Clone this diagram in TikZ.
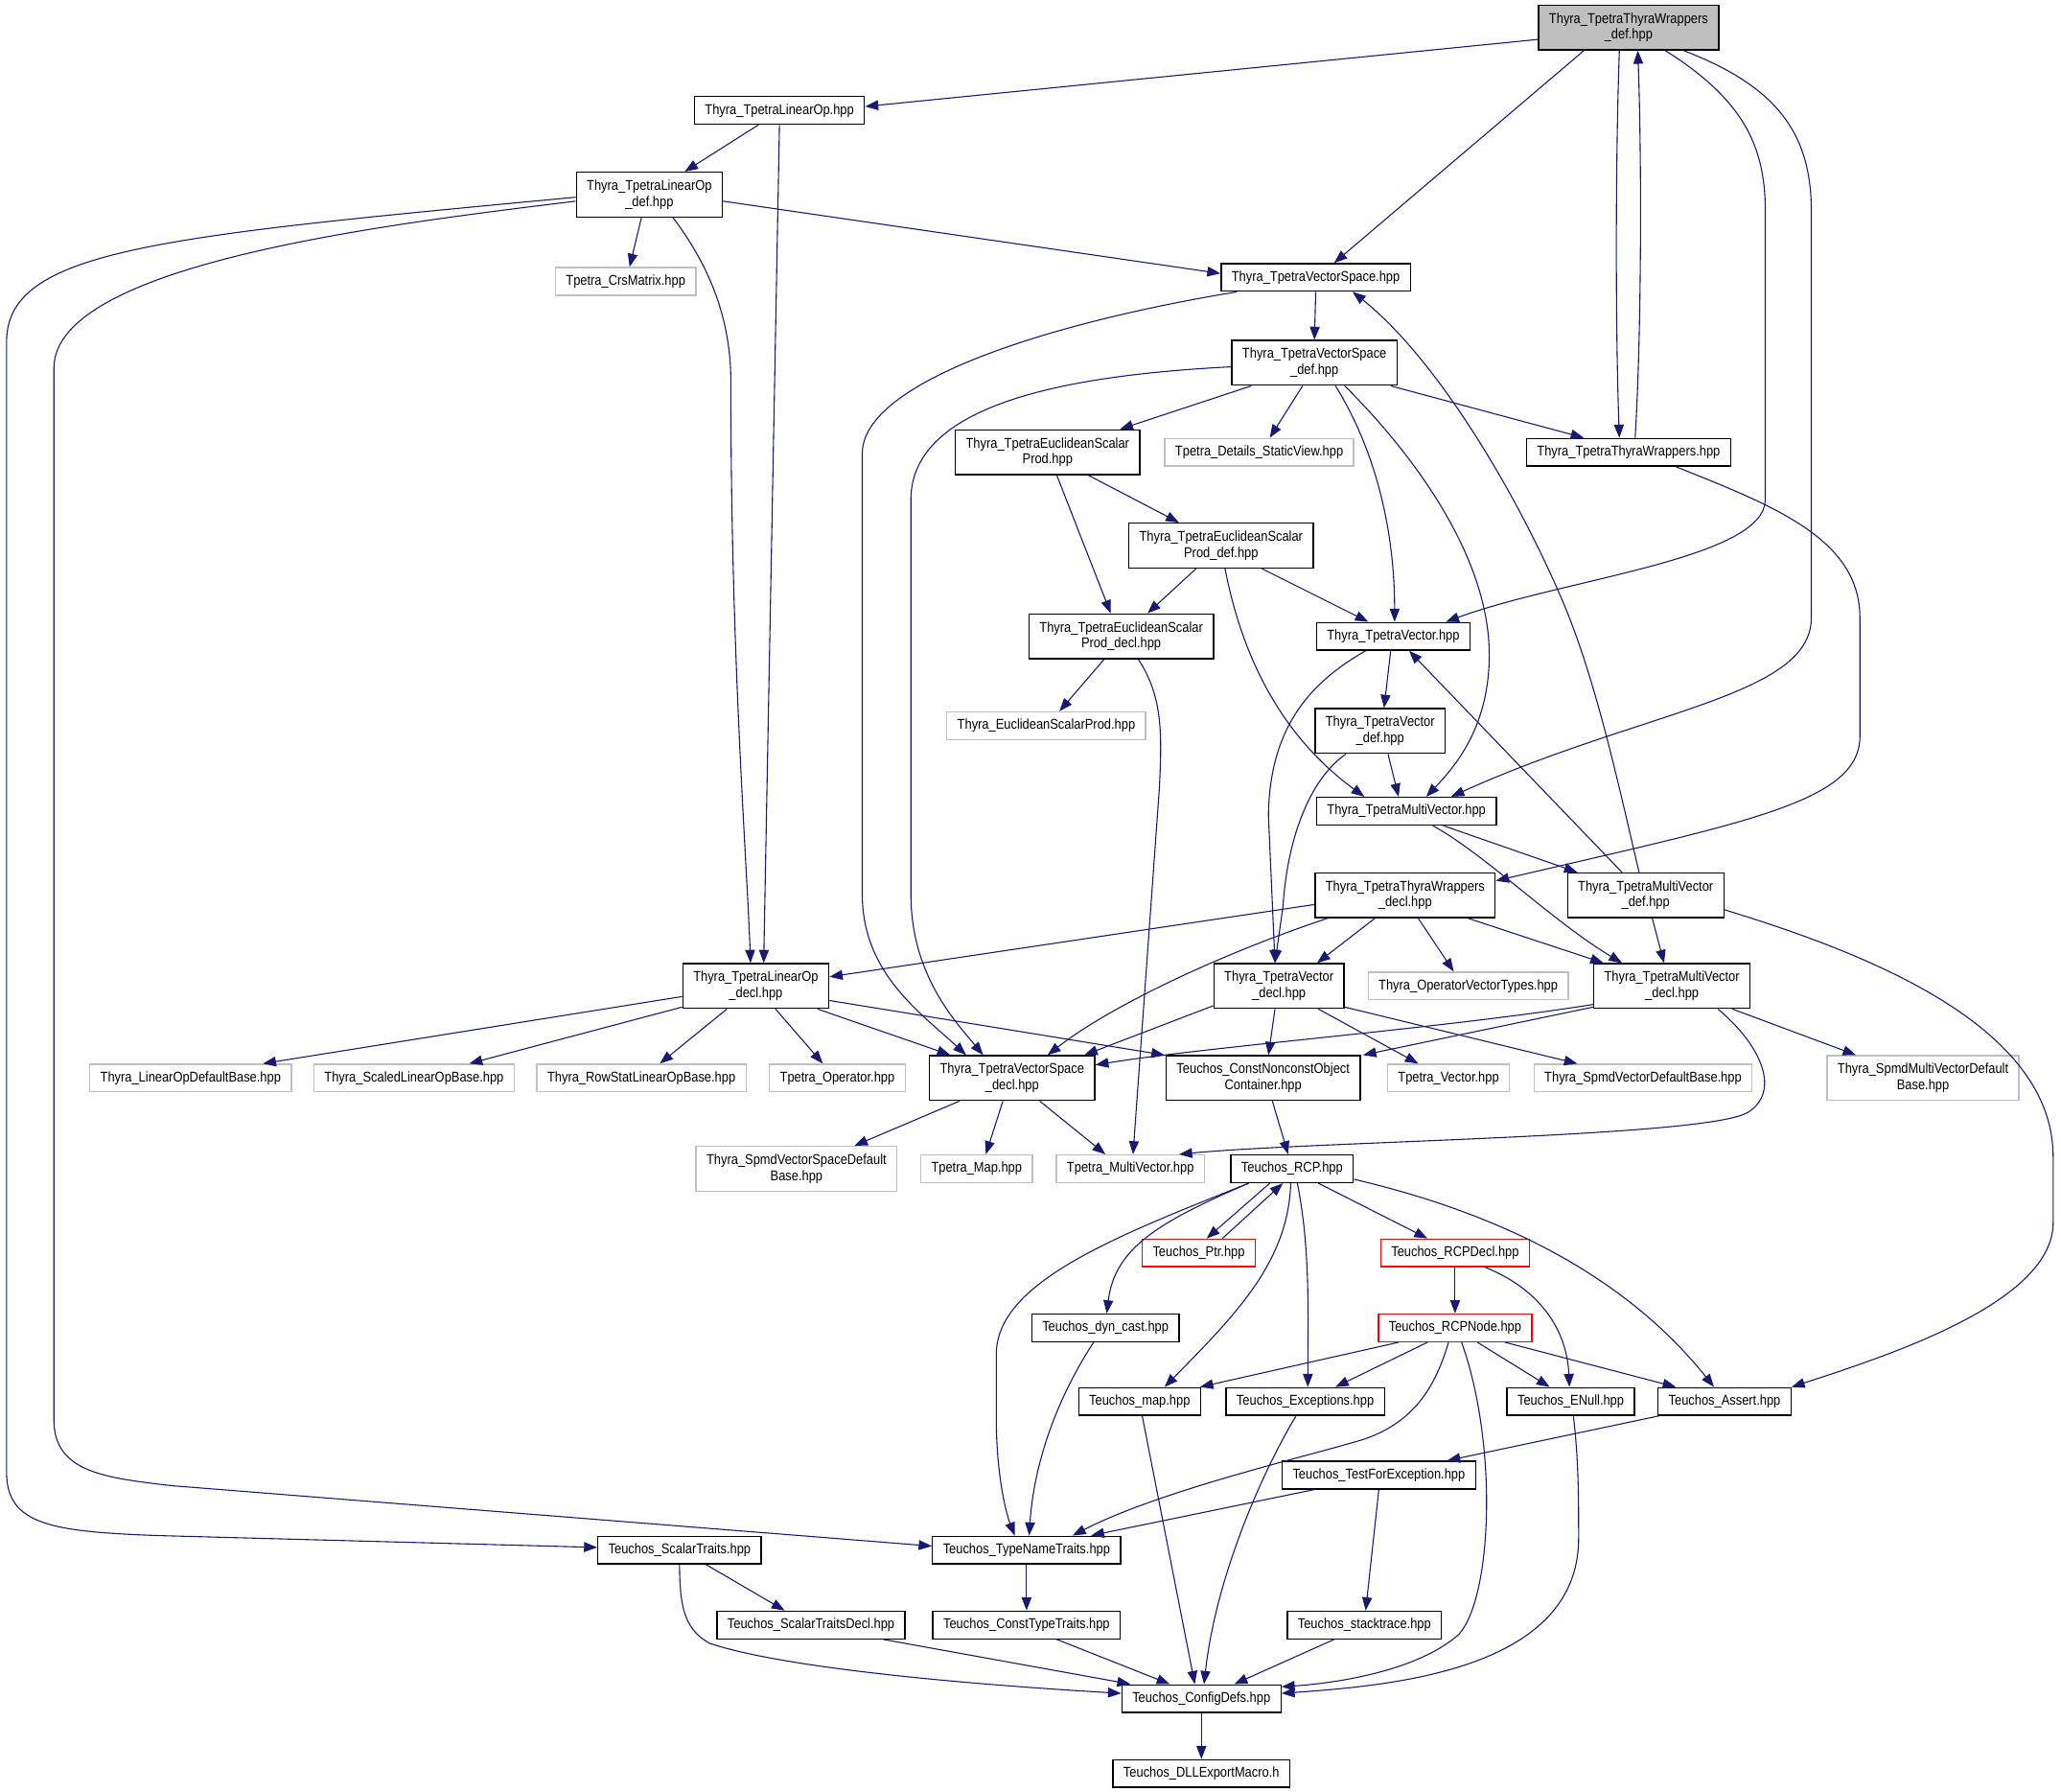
\documentclass[tikz,border=0pt]{standalone}
\usepackage{fontspec}
\setmainfont{Liberation Sans}[FakeStretch=0.87]
\usetikzlibrary{arrows.meta}
\definecolor{depblue}{HTML}{191970}
\definecolor{extgray}{HTML}{BFBFBF}

\begin{document}
\begin{tikzpicture}%
	[x=1pt, y=-1pt,
	filebox/.style={draw=black, fill=white, line width=1pt, inner xsep=8pt, inner ysep=2pt, minimum height=21pt, align=center, font=\fontsize{10.8}{12.2}\selectfont},
	twoline/.style={minimum height=34pt},
	extbox/.style={filebox, draw=extgray},
	redbox/.style={filebox, draw=red},
	rootbox/.style={filebox, fill=extgray},
	depedge/.style={color=depblue, line width=0.8pt, -{Triangle[length=10pt,width=7.5pt]}}]
	\fill[white] (0,0) rectangle (1568,1363);
	\useasboundingbox (0,0) rectangle (1568,1363);

	% files
	\node[rootbox, twoline] (ttwdef) at (1239,21) {Thyra\_TpetraThyraWrappers\\\_def.hpp};
	\node[filebox] (tlo) at (593,84) {Thyra\_TpetraLinearOp.hpp};
	\node[filebox, twoline] (tlodef) at (494,148) {Thyra\_TpetraLinearOp\\\_def.hpp};
	\node[extbox] (crs) at (476,214) {Tpetra\_CrsMatrix.hpp};
	\node[filebox] (tvs) at (1001,211) {Thyra\_TpetraVectorSpace.hpp};
	\node[filebox, twoline] (tvsdef) at (1000,276) {Thyra\_TpetraVectorSpace\\\_def.hpp};
	\node[filebox, twoline] (tesp) at (797,344) {Thyra\_TpetraEuclideanScalar\\Prod.hpp};
	\node[extbox] (staticview) at (958,344) {Tpetra\_Details\_StaticView.hpp};
	\node[filebox] (ttw) at (1239,344) {Thyra\_TpetraThyraWrappers.hpp};
	\node[filebox, twoline] (tespdef) at (929,415) {Thyra\_TpetraEuclideanScalar\\Prod\_def.hpp};
	\node[filebox, twoline] (tespdecl) at (853,484) {Thyra\_TpetraEuclideanScalar\\Prod\_decl.hpp};
	\node[filebox] (tv) at (1060,484) {Thyra\_TpetraVector.hpp};
	\node[extbox] (esp) at (796,552) {Thyra\_EuclideanScalarProd.hpp};
	\node[filebox, twoline] (tvdef) at (1050,556) {Thyra\_TpetraVector\\\_def.hpp};
	\node[filebox] (tmv) at (1070,617) {Thyra\_TpetraMultiVector.hpp};
	\node[filebox, twoline] (ttwdecl) at (1069,681) {Thyra\_TpetraThyraWrappers\\\_decl.hpp};
	\node[filebox, twoline] (tmvdef) at (1252,681) {Thyra\_TpetraMultiVector\\\_def.hpp};
	\node[filebox, twoline] (tlodecl) at (575,750) {Thyra\_TpetraLinearOp\\\_decl.hpp};
	\node[filebox, twoline] (tvdecl) at (973,750) {Thyra\_TpetraVector\\\_decl.hpp};
	\node[extbox] (opvt) at (1117,750) {Thyra\_OperatorVectorTypes.hpp};
	\node[filebox, twoline] (tmvdecl) at (1272,750) {Thyra\_TpetraMultiVector\\\_decl.hpp};
	\node[extbox] (lodb) at (145,820) {Thyra\_LinearOpDefaultBase.hpp};
	\node[extbox] (slob) at (315,820) {Thyra\_ScaledLinearOpBase.hpp};
	\node[extbox] (rslob) at (488,820) {Thyra\_RowStatLinearOpBase.hpp};
	\node[extbox] (tpop) at (637,820) {Tpetra\_Operator.hpp};
	\node[filebox, twoline] (tvsdecl) at (770,820) {Thyra\_TpetraVectorSpace\\\_decl.hpp};
	\node[filebox, twoline] (cnoc) at (961,820) {Teuchos\_ConstNonconstObject\\Container.hpp};
	\node[extbox] (tpvec) at (1102,820) {Tpetra\_Vector.hpp};
	\node[extbox] (svdb) at (1250,820) {Thyra\_SpmdVectorDefaultBase.hpp};
	\node[extbox, twoline] (smvdb) at (1463,820) {Thyra\_SpmdMultiVectorDefault\\Base.hpp};
	\node[extbox, twoline] (svsdb) at (606,889) {Thyra\_SpmdVectorSpaceDefault\\Base.hpp};
	\node[extbox] (tpmap) at (743,889) {Tpetra\_Map.hpp};
	\node[extbox] (tpmv) at (860,889) {Tpetra\_MultiVector.hpp};
	\node[filebox] (rcp) at (983,889) {Teuchos\_RCP.hpp};
	\node[redbox] (ptr) at (912,953) {Teuchos\_Ptr.hpp};
	\node[redbox] (rcpdecl) at (1107,953) {Teuchos\_RCPDecl.hpp};
	\node[filebox] (dyncast) at (841,1010) {Teuchos\_dyn\_cast.hpp};
	\node[redbox] (rcpnode) at (1107,1010) {Teuchos\_RCPNode.hpp};
	\node[filebox] (tmap) at (867,1066) {Teuchos\_map.hpp};
	\node[filebox] (exc) at (993,1066) {Teuchos\_Exceptions.hpp};
	\node[filebox] (enull) at (1195,1066) {Teuchos\_ENull.hpp};
	\node[filebox] (tassert) at (1312,1066) {Teuchos\_Assert.hpp};
	\node[filebox] (tfe) at (1049,1122) {Teuchos\_TestForException.hpp};
	\node[filebox] (st) at (517,1179) {Teuchos\_ScalarTraits.hpp};
	\node[filebox] (tnt) at (781,1179) {Teuchos\_TypeNameTraits.hpp};
	\node[filebox] (stdecl) at (617,1236) {Teuchos\_ScalarTraitsDecl.hpp};
	\node[filebox] (ctt) at (781,1236) {Teuchos\_ConstTypeTraits.hpp};
	\node[filebox] (stack) at (1038,1236) {Teuchos\_stacktrace.hpp};
	\node[filebox] (config) at (914,1292) {Teuchos\_ConfigDefs.hpp};
	\node[filebox] (dll) at (914,1349) {Teuchos\_DLLExportMacro.h};

	% includes
	\draw[depedge] ([yshift=-9pt]ttwdef.west) -- ([yshift=3pt]tlo.east);
	\draw[depedge] ([xshift=-34pt]ttwdef.south) -- ([xshift=14pt]tvs.north);
	\draw[depedge] ([xshift=-7pt]ttwdef.south) .. controls (1229,120) and (1229,250) .. ([xshift=-7pt]ttw.north);
	\draw[depedge] ([xshift=5pt]ttw.north) .. controls (1249,250) and (1249,120) .. ([xshift=7pt]ttwdef.south);
	\draw[depedge] ([xshift=28pt]ttwdef.south) .. controls (1325,75) and (1343,110) .. (1343,160) -- (1343,380) .. controls (1343,425) and (1190,440) .. ([xshift=40pt]tv.north);
	\draw[depedge] ([xshift=42pt]ttwdef.south) .. controls (1350,65) and (1378,100) .. (1378,160) -- (1378,470) .. controls (1378,530) and (1250,540) .. ([xshift=34pt]tmv.north);
	\draw[depedge] ([xshift=-16pt]tlo.south) -- ([xshift=27pt]tlodef.north);
	\draw[depedge] ([xshift=0pt]tlo.south) -- ([xshift=6pt]tlodecl.north);
	\draw[depedge] ([xshift=-6pt]tlodef.south) -- ([xshift=3pt]crs.north);
	\draw[depedge] ([yshift=-5pt]tlodef.east) -- ([yshift=3pt]tvs.west);
	\draw[depedge] ([xshift=18pt]tlodef.south) .. controls (538,200) and (556,240) .. (556,290) .. controls (556,500) and (568,650) .. ([xshift=-4pt]tlodecl.north);
	\draw[depedge] ([yshift=-5pt]tlodef.west) .. controls (300,170) and (41,200) .. (41,280) -- (41,1080) .. controls (41,1120) and (80,1124) .. (130,1130) -- ([yshift=3pt]tnt.west);
	\draw[depedge] ([yshift=-2pt]tlodef.west) .. controls (120,180) and (5,190) .. (5,260) -- (5,1120) .. controls (5,1160) and (40,1165) .. (120,1168) -- ([yshift=2pt]st.west);
	\draw[depedge] (tvs.south) -- (tvsdef.north);
	\draw[depedge] ([xshift=-60pt]tvs.south) .. controls (800,245) and (656,290) .. (656,345) -- (656,680) .. controls (656,740) and (700,770) .. ([xshift=-35pt]tvsdecl.north);
	\draw[depedge] ([yshift=-3pt]tvsdef.west) .. controls (820,285) and (693,305) .. (693,380) -- (693,680) .. controls (693,740) and (725,775) .. ([xshift=-22pt]tvsdecl.north);
	\draw[depedge] ([xshift=-48pt]tvsdef.south) -- ([xshift=55pt]tesp.north);
	\draw[depedge] ([xshift=-9pt]tvsdef.south) -- ([xshift=8pt]staticview.north);
	\draw[depedge] ([xshift=58pt]tvsdef.south) -- ([xshift=-34pt]ttw.north);
	\draw[depedge] ([xshift=16pt]tvsdef.south) .. controls (1045,340) and (1061,400) .. ([xshift=1pt]tv.north);
	\draw[depedge] ([xshift=23pt]tvsdef.south) .. controls (1070,340) and (1133,420) .. (1133,498) .. controls (1133,550) and (1110,580) .. ([xshift=15pt]tmv.north);
	\draw[depedge] ([xshift=31pt]tesp.south) -- ([xshift=-32pt]tespdef.north);
	\draw[depedge] ([xshift=7pt]tesp.south) -- ([xshift=-8pt]tespdecl.north);
	\draw[depedge] ([xshift=-19pt]tespdef.south) -- ([xshift=20pt]tespdecl.north);
	\draw[depedge] ([xshift=31pt]tespdef.south) -- ([xshift=-19pt]tv.north);
	\draw[depedge] ([xshift=3pt]tespdef.south) .. controls (945,500) and (975,560) .. ([xshift=-32pt]tmv.north);
	\draw[depedge] ([xshift=-13pt]tespdecl.south) -- ([xshift=10pt]esp.north);
	\draw[depedge] ([xshift=13pt]tespdecl.south) .. controls (885,530) and (884,560) .. (882,600) -- ([xshift=2pt]tpmv.north);
	\draw[depedge] ([xshift=36pt]ttw.south) .. controls (1350,385) and (1415,410) .. (1415,470) -- (1415,560) .. controls (1415,610) and (1330,625) .. ([yshift=11pt]ttwdecl.east);
	\draw[depedge] ([xshift=-2pt]tv.south) -- ([xshift=3pt]tvdef.north);
	\draw[depedge] ([xshift=-21pt]tv.south) .. controls (995,520) and (966,555) .. (965,620) -- ([xshift=-3pt]tvdecl.north);
	\draw[depedge] ([xshift=6pt]tvdef.south) -- ([xshift=-6pt]tmv.north);
	\draw[depedge] ([xshift=-26pt]tvdef.south) .. controls (1000,590) and (980,630) .. (976,690) -- ([xshift=-3pt]tvdecl.north);
	\draw[depedge] ([xshift=28pt]tmv.south) -- ([xshift=-52pt]tmvdef.north);
	\draw[depedge] ([xshift=20pt]tmv.south) .. controls (1130,650) and (1180,700) .. ([xshift=-38pt]tmvdecl.north);
	\draw[depedge] ([xshift=-18pt]tmvdef.north) -- ([xshift=12pt]tv.south);
	\draw[depedge] ([xshift=-5pt]tmvdef.north) .. controls (1232,600) and (1215,520) .. (1190,460) .. controls (1152,370) and (1090,270) .. ([xshift=28pt]tvs.south);
	\draw[depedge] ([xshift=5pt]tmvdef.south) -- ([xshift=-6pt]tmvdecl.north);
	\draw[depedge] ([yshift=-11pt]tmvdef.east) .. controls (1420,725) and (1562,780) .. (1562,880) -- (1562,930) .. controls (1562,990) and (1440,1030) .. ([xshift=51pt]tassert.north);
	\draw[depedge] ([yshift=-7pt]ttwdecl.west) -- ([yshift=7pt]tlodecl.east);
	\draw[depedge] ([xshift=-59pt]ttwdecl.south) .. controls (930,725) and (845,765) .. ([xshift=27pt]tvsdecl.north);
	\draw[depedge] ([xshift=-23pt]ttwdecl.south) -- ([xshift=29pt]tvdecl.north);
	\draw[depedge] ([xshift=10pt]ttwdecl.south) -- ([xshift=-11pt]opvt.north);
	\draw[depedge] ([xshift=48pt]ttwdecl.south) -- ([xshift=-52pt]tmvdecl.north);
	\draw[depedge] ([yshift=-8pt]tlodecl.west) -- ([xshift=55pt]lodb.north);
	\draw[depedge] ([yshift=-16pt]tlodecl.west) -- ([xshift=42pt]slob.north);
	\draw[depedge] ([xshift=-22pt]tlodecl.south) -- ([xshift=14pt]rslob.north);
	\draw[depedge] ([xshift=15pt]tlodecl.south) -- ([xshift=-11pt]tpop.north);
	\draw[depedge] ([xshift=47pt]tlodecl.south) -- ([xshift=-47pt]tvsdecl.north);
	\draw[depedge] ([yshift=-11pt]tlodecl.east) -- ([xshift=-75pt]cnoc.north);
	\draw[depedge] ([yshift=-15pt]tvdecl.west) -- ([xshift=55pt]tvsdecl.north);
	\draw[depedge] ([xshift=-3pt]tvdecl.south) -- ([xshift=4pt]cnoc.north);
	\draw[depedge] ([xshift=30pt]tvdecl.south) -- ([xshift=-23pt]tpvec.north);
	\draw[depedge] ([yshift=-16pt]tvdecl.east) -- ([xshift=-50pt]svdb.north);
	\draw[depedge] ([yshift=-16pt]tmvdecl.west) -- ([xshift=76pt]cnoc.north);
	\draw[depedge] ([yshift=-14pt]tmvdecl.west) .. controls (1100,782) and (920,796) .. ([yshift=10pt]tvsdecl.east);
	\draw[depedge] ([xshift=46pt]tmvdecl.south) -- ([xshift=-51pt]smvdb.north);
	\draw[depedge] ([xshift=35pt]tmvdecl.south) .. controls (1340,795) and (1355,830) .. (1330,846) .. controls (1300,865) and (1000,868) .. ([xshift=37pt]tpmv.north);
	\draw[depedge] ([xshift=-40pt]tvsdecl.south) -- ([xshift=44pt]svsdb.north);
	\draw[depedge] ([xshift=-7pt]tvsdecl.south) -- ([xshift=7pt]tpmap.north);
	\draw[depedge] ([xshift=21pt]tvsdecl.south) -- ([xshift=-19pt]tpmv.north);
	\draw[depedge] ([xshift=7pt]cnoc.south) -- ([xshift=-3pt]rcp.north);
	\draw[depedge] ([xshift=-17pt]rcp.south) -- ([xshift=6pt]ptr.north);
	\draw[depedge] ([xshift=18pt]ptr.north) -- ([xshift=-7pt]rcp.south);
	\draw[depedge] ([xshift=20pt]rcp.south) -- ([xshift=-21pt]rcpdecl.north);
	\draw[depedge] ([xshift=-33pt]rcp.south) .. controls (880,930) and (848,950) .. ([xshift=1pt]dyncast.north);
	\draw[depedge] ([xshift=-33pt]rcp.south) .. controls (850,940) and (758,975) .. (758,1030) -- (758,1080) .. controls (758,1120) and (765,1150) .. ([xshift=-9pt]tnt.north);
	\draw[depedge] ([xshift=-1pt]rcp.south) .. controls (980,960) and (940,1000) .. ([xshift=19pt]tmap.north);
	\draw[depedge] ([xshift=4pt]rcp.south) .. controls (997,950) and (995,1000) .. ([xshift=2pt]exc.north);
	\draw[depedge] ([yshift=-8pt]rcp.east) .. controls (1150,925) and (1240,975) .. ([xshift=-8pt]tassert.north);
	\draw[depedge] (rcpdecl.south) -- (rcpnode.north);
	\draw[depedge] ([xshift=23pt]rcpdecl.south) .. controls (1170,980) and (1192,1010) .. ([xshift=-1pt]enull.north);
	\draw[depedge] ([xshift=-43pt]rcpnode.south) -- ([xshift=46pt]tmap.north);
	\draw[depedge] ([xshift=-21pt]rcpnode.south) -- ([xshift=23pt]exc.north);
	\draw[depedge] ([xshift=17pt]rcpnode.south) -- ([xshift=-16pt]enull.north);
	\draw[depedge] ([xshift=38pt]rcpnode.south) -- ([xshift=-37pt]tassert.north);
	\draw[depedge] ([xshift=-5pt]rcpnode.south) .. controls (1092,1055) and (1075,1085) .. (1030,1097) .. controls (985,1110) and (880,1135) .. ([xshift=35pt]tnt.north);
	\draw[depedge] ([xshift=5pt]rcpnode.south) .. controls (1140,1100) and (1135,1215) .. (1110,1243) .. controls (1080,1270) and (1020,1280) .. ([yshift=9pt]config.east);
	\draw[depedge] ([xshift=2pt]enull.south) .. controls (1201,1110) and (1201,1140) .. (1201,1170) .. controls (1201,1270) and (1060,1282) .. ([yshift=4pt]config.east);
	\draw[depedge] ([xshift=-9pt]dyncast.south) .. controls (800,1070) and (786,1120) .. ([xshift=2pt]tnt.north);
	\draw[depedge] ([xshift=2pt]tmap.south) -- ([xshift=-5pt]config.north);
	\draw[depedge] ([xshift=-7pt]exc.south) .. controls (960,1120) and (925,1200) .. ([xshift=2pt]config.north);
	\draw[depedge] ([xshift=-50pt]tassert.south) -- ([xshift=52pt]tfe.north);
	\draw[depedge] ([xshift=-49pt]tfe.south) -- ([xshift=49pt]tnt.north);
	\draw[depedge] (tfe.south) -- ([xshift=1pt]stack.north);
	\draw[depedge] ([xshift=20pt]st.south) -- ([xshift=-20pt]stdecl.north);
	\draw[depedge] (st.south) .. controls (517,1225) and (522,1240) .. (540,1250) .. controls (600,1270) and (750,1282) .. ([yshift=4pt]config.west);
	\draw[depedge] (tnt.south) -- (ctt.north);
	\draw[depedge] ([xshift=55pt]stdecl.south) -- ([xshift=-54pt]config.north);
	\draw[depedge] ([xshift=23pt]ctt.south) -- ([xshift=-24pt]config.north);
	\draw[depedge] ([xshift=-23pt]stack.south) -- ([xshift=25pt]config.north);
	\draw[depedge] (config.south) -- (dll.north);
\end{tikzpicture}
\end{document}
